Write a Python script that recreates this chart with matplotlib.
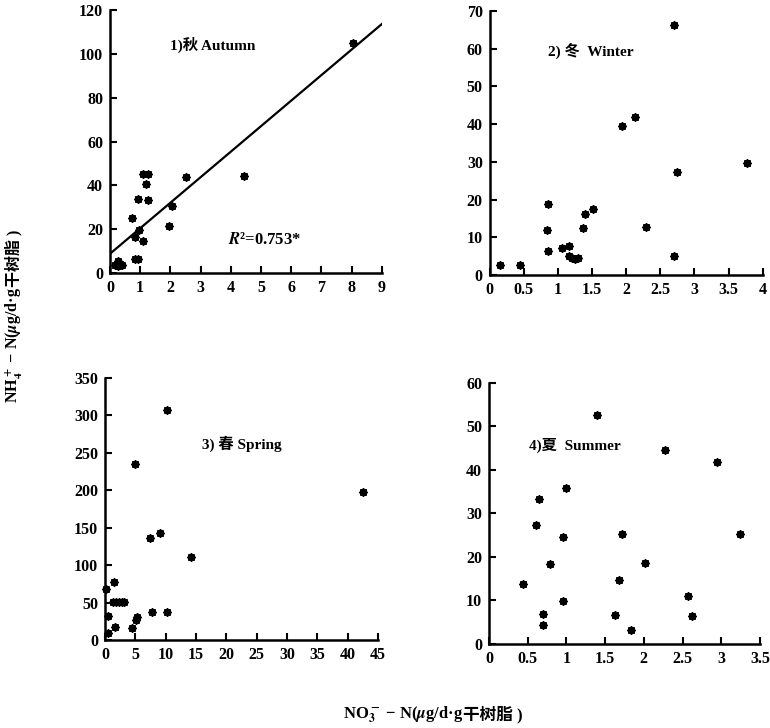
import numpy as np
import matplotlib
matplotlib.use("Agg")
import matplotlib.pyplot as plt
from matplotlib.ticker import FuncFormatter

plt.rcParams['font.family'] = ['Liberation Serif', 'Noto Sans CJK SC', 'DejaVu Sans']
plt.rcParams['mathtext.fontset'] = 'stix'
plt.rcParams['font.weight'] = 'bold'

# ---- data ----
autumn_x = [8.06, 2.51, 4.45, 1.10, 1.27, 1.19, 0.92, 1.27, 2.04, 0.74, 1.94, 0.96, 0.83, 1.08,
            0.83, 0.91, 0.15, 0.25, 0.28, 0.33, 0.38]
autumn_y = [105, 43.9, 44.3, 45.4, 45.4, 40.8, 33.7, 33.2, 30.5, 25.1, 21.3, 19.5, 16.4, 14.6,
            6.5, 6.5, 3.5, 5.5, 3.0, 4.0, 3.5]

winter_x = [2.70, 2.13, 1.94, 3.77, 2.75, 0.85, 1.51, 1.40, 0.84, 1.37, 2.29, 0.85, 1.06, 1.16,
            1.16, 1.21, 1.25, 1.29, 2.70, 0.15, 0.44]
winter_y = [66.2, 41.9, 39.5, 29.8, 27.4, 18.8, 17.5, 16.2, 11.9, 12.4, 12.8, 6.4, 7.2, 7.8,
            5.2, 4.6, 4.2, 4.6, 5.2, 2.6, 2.6]

spring_x = [10.15, 4.94, 42.6, 9.06, 7.41, 14.1, 1.48, 1.3, 1.8, 2.3, 2.8, 3.2, 7.7, 10.15,
            5.3, 5.1, 4.4, 1.65, 0.55, 0.55, 0.2]
spring_y = [306.7, 235.4, 197, 142.7, 136, 110.6, 78, 51.3, 51.3, 51.3, 51.3, 51.3, 37.5, 37.5,
            31, 27, 15.6, 17, 32, 9, 68]

summer_x = [1.39, 2.27, 2.94, 0.99, 0.65, 0.61, 3.24, 1.72, 0.96, 0.79, 2.02, 0.44, 1.68, 2.57,
            0.95, 0.70, 0.70, 1.63, 2.62, 1.83]
summer_y = [52.6, 44.7, 41.9, 35.9, 33.4, 27.3, 25.2, 25.4, 24.5, 18.5, 18.7, 13.7, 14.7, 11.1,
            9.9, 7.0, 4.3, 6.6, 6.4, 3.2]

titles = ["1)秋 Autumn", "2) 冬  Winter", "3) 春 Spring", "4)夏  Summer"]
xticks = [np.arange(0, 10, 1), np.arange(0, 4.01, 0.5), np.arange(0, 46, 5), np.arange(0, 3.51, 0.5)]
yticks = [np.arange(0, 121, 20), np.arange(0, 71, 10), np.arange(0, 351, 50), np.arange(0, 61, 10)]
r2_text = r"$R$²=0.753*"

series = [(autumn_x, autumn_y), (winter_x, winter_y), (spring_x, spring_y), (summer_x, summer_y)]

fig = plt.figure(figsize=(7.7, 7.28), dpi=100)
rects = [
    [0.1429, 0.625, 0.353, 0.361],
    [0.636, 0.622, 0.3545, 0.363],
    [0.1364, 0.1209, 0.3545, 0.360],
    [0.635, 0.1154, 0.352, 0.3585],
]
title_pos = [(0.379, 0.867), (0.37, 0.85), (0.5, 0.75), (0.317, 0.762)]

fmt = FuncFormatter(lambda v, p: f"{v:g}")

for i, (rect, (xs, ys)) in enumerate(zip(rects, series)):
    ax = fig.add_axes(rect)
    ax.scatter(xs, ys, marker=(8, 2, 0), s=22, color='black', linewidths=1.5, clip_on=False, zorder=3)
    ax.scatter(xs, ys, marker='o', s=8, color='black', clip_on=False, zorder=3)
    ax.set_xlim(xticks[i][0], xticks[i][-1])
    ax.set_ylim(yticks[i][0], yticks[i][-1])
    ax.set_xticks(xticks[i])
    ax.set_yticks(yticks[i])
    ax.xaxis.set_major_formatter(fmt)
    ax.yaxis.set_major_formatter(fmt)
    for s in ['top', 'right']:
        ax.spines[s].set_visible(False)
    for s in ['left', 'bottom']:
        ax.spines[s].set_linewidth(1.8)
    ax.tick_params(direction='in', length=5, width=1.5, labelsize=11.5, pad=5)
    for lab in ax.get_xticklabels() + ax.get_yticklabels():
        lab.set_fontweight('bold')
    ax.text(title_pos[i][0], title_pos[i][1], titles[i], transform=ax.transAxes,
            ha='center', va='center', fontsize=11, fontweight='bold')
    if i == 0:
        k, b = np.polyfit(xs, ys, 1)
        lx = np.array([0, 9])
        ax.plot(lx, k * lx + b, color='black', lw=1.6)
        ax.text(0.57, 0.125, r2_text, transform=ax.transAxes, ha='center', va='center',
                fontsize=12, fontweight='bold')

# axis labels: Latin/math part + CJK part, joined end to end
renderer = fig.canvas.get_renderer()

def two_part_label(part1, part2, cx, cy, vertical, size=12):
    kw = dict(fontsize=size, fontweight='bold')
    if not vertical:
        t1 = fig.text(0, cy, part1, ha='left', va='center', **kw)
        t2 = fig.text(0, cy, part2, ha='left', va='center', **kw)
        w1 = t1.get_window_extent(renderer).width
        w2 = t2.get_window_extent(renderer).width
        total = (w1 + w2) / fig.bbox.width
        x0 = cx - total / 2
        t1.set_x(x0)
        t2.set_x(x0 + w1 / fig.bbox.width)
    else:
        t1 = fig.text(cx, 0, part1, ha='center', va='bottom', rotation=90, **kw)
        t2 = fig.text(cx, 0, part2, ha='center', va='bottom', rotation=90, **kw)
        h1 = t1.get_window_extent(renderer).height
        h2 = t2.get_window_extent(renderer).height
        total = (h1 + h2) / fig.bbox.height
        y0 = cy - total / 2
        t1.set_y(y0)
        t2.set_y(y0 + h1 / fig.bbox.height)

two_part_label(r"NO$_3^-$ − N($\mu$g/d·g ", "干树脂 )", 0.562, 0.019, False, 12)
two_part_label(r"NH$_4^+$ − N($\mu$g/d·g ", "干树脂 )", 0.018, 0.566, True, 11.5)

fig.savefig("out.png", dpi=100)
